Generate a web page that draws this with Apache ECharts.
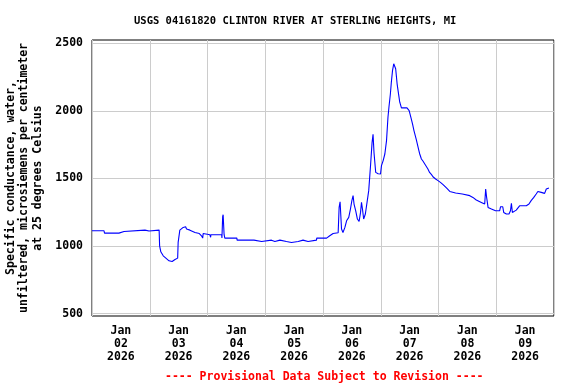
<!DOCTYPE html>
<html><head><meta charset="utf-8">
<script src="https://cdn.jsdelivr.net/npm/echarts@6/dist/echarts.min.js"></script>
<style>html,body{margin:0;padding:0;background:#fff}#c{width:576px;height:384px}</style>
</head><body><div id="c"></div>
<script>
// hours since 2026-01-02 00:00
const hours = [0,5.0,5.2,11.2,11.4,13.3,13.5,22.0,22.2,23.7,23.9,27.9,28.1,28.6,29.6,30.7,32.0,33.3,34.5,35.6,35.8,36.5,37.9,38.9,39.3,40.7,42.8,44.6,45.5,46.0,46.2,46.9,49.0,49.3,49.4,53.9,54.0,54.3,54.5,54.9,55.2,60.2,60.3,67.3,67.5,70.5,70.6,74.6,74.7,76.0,76.1,78.1,78.2,80.8,81.0,82.9,83.0,85.7,85.8,87.7,87.9,89.8,89.9,93.3,93.4,97.5,97.6,98.8,100.2,102.3,102.7,103.1,103.7,104.3,105.1,105.8,106.7,107.4,108.0,108.5,108.9,109.6,110.3,111.0,111.6,112.0,112.4,112.9,113.6,114.3,115.0,115.4,115.8,116.4,116.8,117.2,117.9,118.9,119.9,120.3,121.0,121.7,122.4,123.0,123.4,124.0,124.4,124.9,125.4,125.8,126.2,126.8,127.5,127.9,128.6,129.5,130.3,130.9,131.8,132.5,133.2,133.8,134.8,135.8,136.2,136.9,137.6,138.3,139.0,139.6,140.3,141.1,141.7,142.8,143.8,144.8,145.9,147.3,148.7,151.1,153.9,157.0,158.3,159.7,161.8,163.2,163.6,164.0,164.6,166.0,167.7,169.4,169.8,170.7,171.1,172.2,173.3,173.9,174.3,174.7,175.2,176.3,177.7,180.5,181.6,182.5,183.6,184.6,185.3,186.7,188.1,188.8,189.9];
const conductance = [1113,1113,1096,1096,1108,1108,1118,1118,1111,1111,1118,1118,1002,958,928,911,891,886,901,911,1027,1118,1138,1143,1126,1118,1101,1093,1076,1059,1093,1084,1084,1065,1084,1084,1060,1217,1232,1084,1059,1059,1044,1044,1034,1034,1044,1044,1034,1034,1044,1044,1034,1034,1027,1027,1034,1034,1044,1044,1034,1034,1044,1044,1059,1059,1069,1076,1093,1099,1286,1328,1126,1101,1138,1187,1212,1274,1336,1373,1311,1261,1200,1182,1249,1323,1274,1200,1237,1323,1410,1508,1607,1767,1826,1690,1545,1535,1533,1595,1632,1681,1780,1953,2027,2125,2212,2299,2348,2353,2311,2200,2113,2064,2022,2022,2032,2022,2002,1953,1903,1854,1785,1710,1681,1644,1627,1607,1595,1570,1545,1528,1513,1496,1484,1471,1454,1430,1404,1392,1385,1373,1360,1341,1323,1311,1422,1360,1286,1274,1261,1261,1291,1291,1249,1237,1237,1261,1316,1249,1237,1266,1298,1298,1311,1336,1360,1385,1404,1397,1390,1422,1430];
const yTicks = [500,1000,1500,2000,2500];
const dayLabelHours = [12,36,60,84,108,132,156,180];
const dayLabels = ['Jan\n02\n2026','Jan\n03\n2026','Jan\n04\n2026','Jan\n05\n2026','Jan\n06\n2026','Jan\n07\n2026','Jan\n08\n2026','Jan\n09\n2026'];

const FONT = 'DejaVu Sans Mono';
const chart = echarts.init(document.getElementById('c'), null, {renderer:'canvas'});
chart.setOption({
  animation:false,
  backgroundColor:'#fff',
  title:[{
    text:'USGS 04161820 CLINTON RIVER AT STERLING HEIGHTS, MI',
    left:129, top:11,
    textStyle:{fontFamily:FONT,fontWeight:'bold',fontSize:10.5,color:'#000'}
  },{
    text:'---- Provisional Data Subject to Revision ----',
    left:160, top:366,
    textStyle:{fontFamily:FONT,fontWeight:'bold',fontSize:11.5,color:'#ff0000'}
  }],
  grid:{left:92,right:22,top:40,bottom:68,show:true,borderColor:'#000',borderWidth:1,backgroundColor:'transparent',containLabel:false,outerBoundsMode:'none'},
  xAxis:{
    type:'value', min:0, max:192, interval:24,
    axisLine:{show:false}, axisTick:{show:false},
    splitLine:{show:true,lineStyle:{color:'#cccccc',width:1}},
    axisLabel:{
      customValues:dayLabelHours,
      formatter:function(v){const i=dayLabelHours.indexOf(v);return i>=0?dayLabels[i]:'';},
      fontFamily:FONT,fontWeight:'bold',fontSize:11.5,color:'#000',lineHeight:13,margin:9
    }
  },
  yAxis:{
    type:'value', min:483, max:2524,
    name:'Specific conductance, water,\nunfiltered, microsiemens per centimeter\nat 25 degrees Celsius',
    nameLocation:'middle', nameRotate:90, nameGap:46,
    nameTextStyle:{fontFamily:FONT,fontWeight:'bold',fontSize:11.5,color:'#000',lineHeight:13.5,align:'center'},
    axisLine:{show:false},
    axisTick:{show:false,customValues:yTicks},
    splitLine:{show:true,lineStyle:{color:'#cccccc',width:1}},
    axisLabel:{customValues:yTicks,formatter:function(v){return String(v);},fontFamily:FONT,fontWeight:'bold',fontSize:11.5,color:'#000',margin:9}
  },
  series:[{
    type:'line', showSymbol:false, symbol:'none',
    data:hours.map((h,i)=>[h,conductance[i]]),
    lineStyle:{color:'#0000ff',width:1.1}
  }]
});
</script></body></html>
